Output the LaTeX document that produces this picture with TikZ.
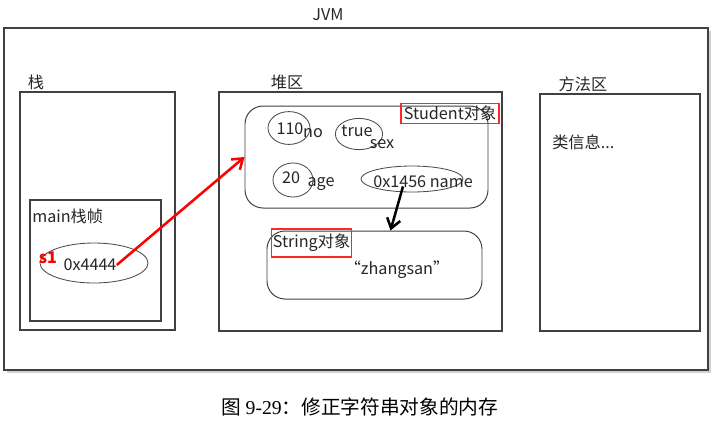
\documentclass[tikz,border=0pt]{standalone}
\usepackage{fontspec}
\setmainfont{Noto Sans CJK SC}
\newfontfamily\capfont{Liberation Serif}
\usetikzlibrary{shapes.geometric, arrows.meta, positioning, shadows, calc, fit}

\begin{document}
\begin{tikzpicture}[
    x=0.025cm, y=-0.025cm,
    area/.style = {draw=black!75, line width=0.8pt, inner sep=0pt},
    obj/.style  = {draw=black!75, line width=0.7pt, rounded corners=4.5mm, inner sep=0pt},
    cell/.style = {ellipse, draw=black!70, line width=0.6pt, inner sep=0pt},
    tag/.style  = {draw=red!85, line width=0.8pt, inner sep=0pt, font=\fontsize{11.5}{13}\selectfont, text=black!85},
    txt/.style  = {inner sep=0pt, font=\fontsize{11.5}{13}\selectfont, text=black!85},
    ptr/.style  = {line width=1.8pt, -{Straight Barb[length=2.4mm, width=3.4mm]}}
]
\useasboundingbox (0,0) rectangle (718,424);

% JVM
\node (jvm) [area, fit={(4,28) (708,370)}, fill=white, drop shadow={shadow xshift=2pt, shadow yshift=-2pt, fill=black!35}] {};
\node (jvmlbl) [txt] at (328,15) {JVM};

% Stack
\node (stacklbl) [txt] at (36,82) {栈};
\node (stack) [area, fit={(20,92) (175,330)}] {};
\node (frame) [area, fit={(30,200) (161,321)}] {};
\node (framelbl) [txt, anchor=west] at (32,216) {main栈帧};
\node (ref) [cell, minimum width=2.7cm, minimum height=1cm] at (94,263) {};
\node (refval) [txt] at (90,265) {0x4444};
\node (s1) [txt, text=red, font=\fontsize{11.5}{13}\selectfont\bfseries] at (48,258) {s1};

% Heap
\node (heaplbl) [txt] at (287,82) {堆区};
\node (heap) [area, fit={(219,92) (502,331)}] {};
\node (student) [obj, fit={(245,106) (488,208)}] {};
\node (studenttag) [tag, minimum width=2.45cm, minimum height=0.52cm] at (450,113.5) {Student对象};

% Student fields
\node (no) [cell, minimum width=1.05cm, minimum height=0.82cm] at (289,128) {};
\node (noval) [txt] at (290,129) {110};
\node (nolbl) [txt] at (313,133) {no};
\node (sex) [cell, minimum width=1.18cm, minimum height=0.78cm] at (359,134) {};
\node (sexval) [txt] at (357,131) {true};
\node (sexlbl) [txt] at (382,144) {sex};
\node (age) [cell, minimum width=1cm, minimum height=0.85cm] at (293,180) {};
\node (ageval) [txt] at (291,178) {20};
\node (agelbl) [txt] at (321,184) {age};
\node (name) [cell, minimum width=2.55cm, minimum height=0.65cm] at (412,179) {};
\node (nameval) [txt] at (423,182) {0x1456 name};

% String object
\node (strobj) [obj, fit={(267,231) (482,299)}] {};
\node (strtag) [tag, minimum width=2.02cm, minimum height=0.7cm] at (311.5,243) {String对象};
\node (strval) [txt] at (397,270) {“zhangsan”};

% Method area
\node (methodlbl) [txt] at (583,84) {方法区};
\node (method) [area, fit={(540,94) (700,331)}] {};
\node (classinfo) [txt, anchor=west] at (552,142) {类信息...};

% References
\draw [ptr, red] (refval.east) -- (student.west);
\draw [ptr, black] ($(name.south)+(-9,-6)$) -- ($(strobj.north)+(16,0)$);

% Caption
\node (caption) [inner sep=0pt, font=\fontsize{14}{16}\selectfont] at (360,407) {图 {\capfont 9-29}：修正字符串对象的内存};

\end{tikzpicture}
\end{document}
